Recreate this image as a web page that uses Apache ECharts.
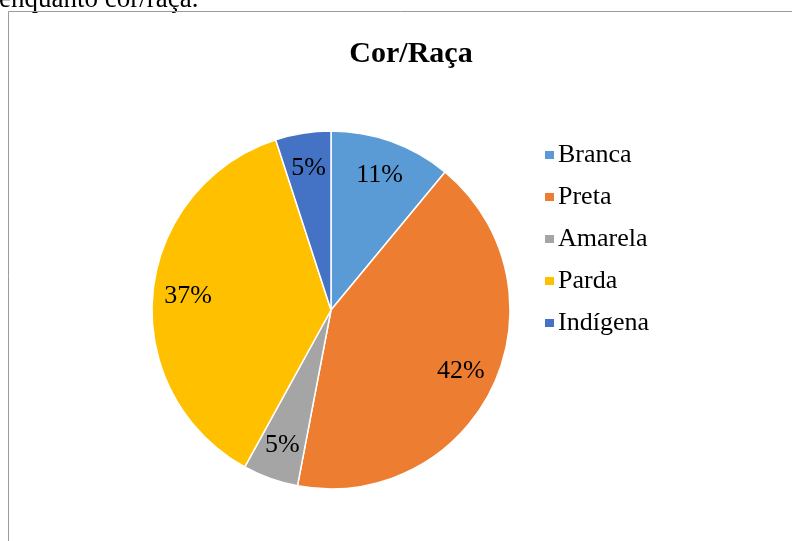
<!DOCTYPE html>
<html>
<head>
<meta charset="utf-8">
<script src="https://cdn.jsdelivr.net/npm/echarts@6/dist/echarts.min.js"></script>
<style>
  html, body { margin: 0; padding: 0; background: #fff; }
  #chart { width: 792px; height: 541px; }
</style>
</head>
<body>
<div id="chart"></div>
<script>
// dados do gráfico
var categorias = ['Branca', 'Preta', 'Amarela', 'Parda', 'Indígena'];
var valores = [11, 42, 5, 37, 5];
var cores = ['#5B9BD5', '#ED7D31', '#A5A5A5', '#FFC000', '#4472C4'];

var serif = '"Liberation Serif", "Times New Roman", serif';

var dados = categorias.map(function (nome, i) {
    return { name: nome, value: valores[i] };
});

var chart = echarts.init(document.getElementById('chart'));
chart.setOption({
    animation: false,
    color: cores,
    title: {
        text: 'Cor/Raça',
        left: 406,
        top: 34,
        textAlign: 'center',
        textStyle: { fontFamily: serif, fontSize: 30, fontWeight: 'bold', color: '#000' }
    },
    legend: {
        orient: 'vertical',
        left: 538,
        top: 137,
        icon: 'rect',
        itemWidth: 11,
        itemHeight: 10,
        itemGap: 16,
        data: categorias,
        textStyle: { fontFamily: serif, fontSize: 26, color: '#000', padding: [0, 0, 0, -2] }
    },
    graphic: [
        {
            type: 'text',
            left: -1,
            top: -14,
            style: { text: 'enquanto cor/raça.', font: '27px ' + serif, fill: '#000' }
        },
        {
            type: 'polyline',
            shape: { points: [[8.5, 545], [8.5, 11.5], [800, 11.5]] },
            style: { stroke: '#9a9a9a', lineWidth: 1, fill: null }
        }
    ],
    series: [
        {
            // fatias
            type: 'pie',
            center: [331, 310],
            radius: 179,
            startAngle: 90,
            clockwise: true,
            data: dados,
            label: { show: false },
            labelLine: { show: false },
            itemStyle: { borderColor: '#fff', borderWidth: 1.5 },
            emphasis: { disabled: true }
        },
        {
            // só os rótulos, num anel transparente para afastar do centro
            type: 'pie',
            center: [331, 310],
            radius: [102, 179],
            startAngle: 90,
            clockwise: true,
            silent: true,
            data: dados,
            itemStyle: { color: 'rgba(0,0,0,0)' },
            label: {
                show: true,
                position: 'inside',
                formatter: '{d}%',
                fontFamily: serif,
                fontSize: 26,
                color: '#000'
            },
            labelLine: { show: false }
        }
    ]
});
</script>
</body>
</html>
